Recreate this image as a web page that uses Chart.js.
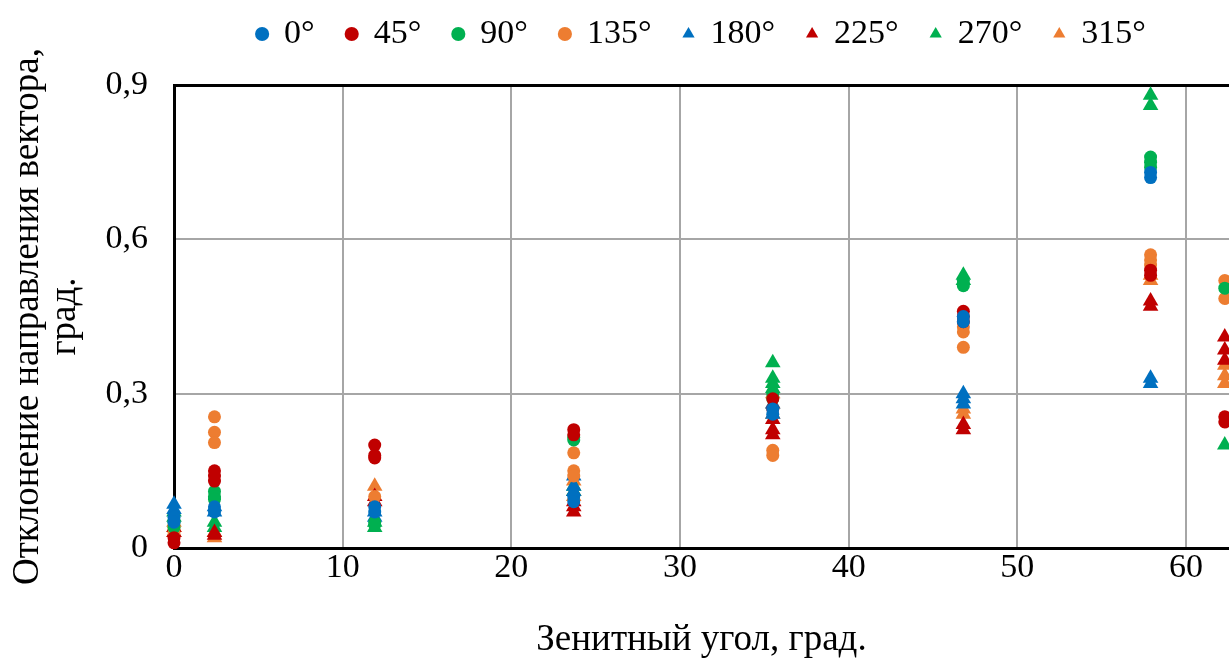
<!DOCTYPE html>
<html>
<head>
<meta charset="utf-8">
<script src="https://cdn.jsdelivr.net/npm/chart.js@4/dist/chart.umd.min.js"></script>
<style>
  html, body { margin: 0; padding: 0; background: #fff; }
  #wrap { width: 1229px; height: 661px; }
</style>
</head>
<body>
<div id="wrap"><canvas id="chart"></canvas></div>
<script>
// zenith angles (x), one column of points per angle
const zenith = [0, 2.4, 11.9, 23.7, 35.5, 46.8, 57.9, 62.3];

// deviation values read per zenith column, per azimuth series
const deg0   = [[0.06, 0.05], [0.08, 0.07], [0.08, 0.07], [0.1, 0.09], [0.27, 0.26], [0.44, 0.45], [0.72, 0.73], []];
const deg45  = [[0.01, 0.02], [0.15, 0.14, 0.13], [0.2, 0.18, 0.175], [0.23, 0.22], [0.29, 0.27], [0.46, 0.45, 0.44], [0.54, 0.53], [0.255, 0.245]];
const deg90  = [[0.05, 0.04], [0.11, 0.1, 0.095], [0.05, 0.045], [0.215, 0.21], [0.3, 0.29], [0.52, 0.51], [0.76, 0.75, 0.74], [0.505]];
const deg135 = [[0.04, 0.03], [0.255, 0.225, 0.205], [0.1], [0.185, 0.15, 0.14], [0.19, 0.18], [0.43, 0.42, 0.39], [0.57, 0.56, 0.55], [0.52, 0.485]];
const deg180 = [[0.085, 0.075], [0.08, 0.07], [0.07, 0.06], [0.14, 0.12, 0.11], [0.28, 0.26], [0.3, 0.29, 0.28], [0.33, 0.32], []];
const deg225 = [[0.03, 0.04], [0.03, 0.025], [0.1, 0.09], [0.09, 0.08, 0.07], [0.25, 0.23, 0.22], [0.24, 0.23], [0.48, 0.47], [0.41, 0.385, 0.365]];
const deg270 = [[0.07, 0.06], [0.05, 0.04], [0.05, 0.04], [0.12, 0.11], [0.36, 0.33, 0.32, 0.31], [0.53, 0.52], [0.88, 0.86], [0.2]];
const deg315 = [[0.05, 0.04, 0.03], [0.03, 0.02], [0.12], [0.13, 0.11, 0.1], [0.3, 0.28, 0.26], [0.27, 0.26], [0.53, 0.52], [0.355, 0.335, 0.32]];

const seriesNames = ["0°", "45°", "90°", "135°", "180°", "225°", "270°", "315°"];
const seriesData = [deg0, deg45, deg90, deg135, deg180, deg225, deg270, deg315];
const colors = ["#0070C0", "#C00000", "#00B050", "#ED7D31", "#0070C0", "#C00000", "#00B050", "#ED7D31"];
const shapes = ["circle", "circle", "circle", "circle", "triangle", "triangle", "triangle", "triangle"];

const yTicks = [0, 0.3, 0.6, 0.9];
const xTicks = [0, 10, 20, 30, 40, 50, 60];

// turn per-column lists into scatter points
function toPoints(cols) {
    let pts = [];
    cols.forEach((vals, i) => {
        vals.forEach(v => pts.push({ x: zenith[i], y: v }));
    });
    return pts;
}

const datasets = seriesNames.map((name, i) => ({
    label: name,
    data: toPoints(seriesData[i]),
    backgroundColor: colors[i],
    borderColor: colors[i],
    borderWidth: 0,
    pointStyle: shapes[i],
    pointRadius: shapes[i] === "circle" ? 6.5 : 9,
    pointHoverRadius: 7,
    clip: false
}));

const serif = "'Liberation Serif', 'Times New Roman', serif";

new Chart(document.getElementById("chart"), {
    type: "scatter",
    data: { datasets: datasets },
    options: {
        responsive: true,
        maintainAspectRatio: false,
        animation: false,
        layout: { autoPadding: false, padding: { top: -15, right: 0, left: 0, bottom: 0 } },
        plugins: {
            legend: {
                position: "top",
                fullSize: false,
                labels: {
                    usePointStyle: true,
                    boxWidth: 10,
                    boxHeight: 10,
                    padding: 32,
                    color: "#000",
                    font: { family: serif, size: 34 }
                }
            },
            tooltip: { enabled: false }
        },
        scales: {
            x: {
                type: "linear",
                min: 0,
                max: 62.55,
                afterBuildTicks: scale => {
                    scale.ticks = xTicks.map(v => ({ value: v }));
                },
                afterFit: scale => { scale.height = 113; },
                grid: {
                    color: "#a6a6a6",
                    lineWidth: 2,
                    drawTicks: false
                },
                border: { color: "#000", width: 3 },
                ticks: {
                    color: "#000",
                    padding: 0,
                    font: { family: serif, size: 34 }
                },
                title: {
                    display: true,
                    text: "Зенитный угол, град.",
                    color: "#000",
                    padding: { top: 20, bottom: 2 },
                    font: { family: serif, size: 37, lineHeight: 1.0 }
                }
            },
            // empty top axis: gives the gap under the legend and the black top frame line
            xTop: {
                type: "linear",
                position: "top",
                afterFit: scale => { scale.height = 24; },
                grid: { display: false },
                ticks: { display: false },
                border: { color: "#000", width: 3 }
            },
            y: {
                min: 0,
                max: 0.9,
                afterBuildTicks: scale => {
                    scale.ticks = yTicks.map(v => ({ value: v }));
                },
                afterFit: scale => { scale.width = 174; },
                grid: {
                    color: "#a6a6a6",
                    lineWidth: 2,
                    drawTicks: false
                },
                border: { color: "#000", width: 3 },
                ticks: {
                    color: "#000",
                    padding: 26,
                    font: { family: serif, size: 34 },
                    callback: v => v === 0 ? "0" : v.toFixed(1).replace(".", ",")
                },
                title: {
                    display: true,
                    text: ["Отклонение направления вектора,", "град."],
                    color: "#000",
                    padding: { top: 10, bottom: 0 },
                    font: { family: serif, size: 37, lineHeight: 1.0 }
                }
            }
        }
    }
});
</script>
</body>
</html>
